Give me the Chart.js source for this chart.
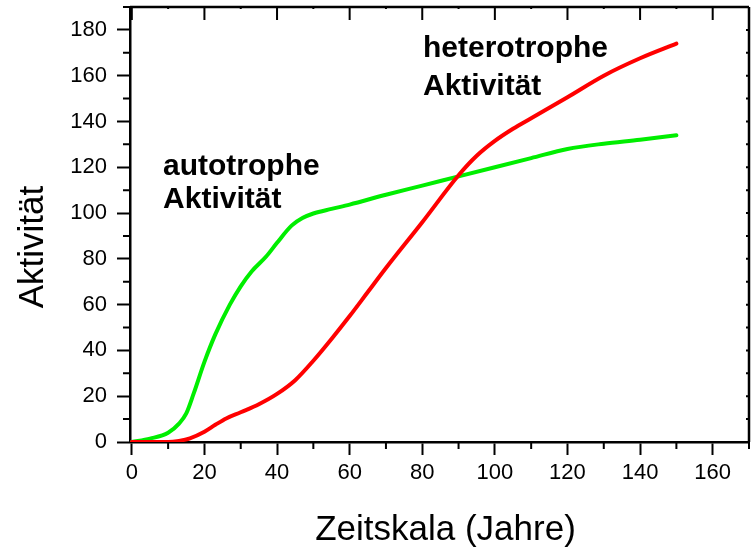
<!DOCTYPE html>
<html>
<head>
<meta charset="utf-8">
<script src="https://cdn.jsdelivr.net/npm/chart.js@4"></script>
<style>
  html, body { margin: 0; padding: 0; background: #fff; }
  #wrap { width: 755px; height: 550px; }
</style>
</head>
<body>
<div id="wrap"><canvas id="chart"></canvas></div>
<script>
// Werte
const jahreAuto = [0, 5, 10, 13, 15, 17, 20, 23, 27, 30, 33, 37, 40, 44, 47, 50, 55, 60, 70, 80, 90, 100, 110, 120, 130, 140, 150];
const autotroph = [0, 1.5, 4, 8, 12.5, 21, 35, 47, 60, 68, 74.5, 81, 87, 94.5, 97.8, 99.8, 101.8, 103.7, 108, 112, 116, 120, 124, 128, 130.3, 132, 134];

const jahreHetero = [0, 5, 10, 13, 16, 20, 23, 26, 30, 35, 40, 45, 50, 55, 60, 65, 70, 80, 90, 95, 100, 105, 110, 120, 130, 140, 150];
const heterotroph = [0, 0, 0, 0.5, 1.6, 4.5, 7.5, 10.3, 13, 16.5, 21, 27, 35.5, 45, 55, 65.5, 76, 96, 116.5, 125, 131.5, 136.8, 141.4, 150.6, 160, 167.6, 174];

const xTicks = [0, 20, 40, 60, 80, 100, 120, 140, 160];
const yTicks = [0, 20, 40, 60, 80, 100, 120, 140, 160, 180];

const textAuto = ['autotrophe', 'Aktivität'];
const textHetero = ['heterotrophe', 'Aktivität'];
const xTitle = 'Zeitskala (Jahre)';
const yTitle = 'Aktivität';

const toPoints = (xs, ys) => xs.map((x, i) => ({ x: x, y: ys[i] }));

const schrift = '"Liberation Sans", Arial, sans-serif';

// Rahmen, Nebenstriche, Beschriftungen
const rahmen = {
  id: 'rahmen',
  afterDraw(chart) {
    const ctx = chart.ctx;
    const a = chart.chartArea;
    const xs = chart.scales.x;
    const ys = chart.scales.y;
    ctx.save();
    ctx.strokeStyle = '#000';
    ctx.lineWidth = 2.5;

    // obere und rechte Achse
    ctx.beginPath();
    ctx.moveTo(a.left, a.top); ctx.lineTo(a.right, a.top);
    ctx.moveTo(a.right, a.top); ctx.lineTo(a.right, a.bottom);
    ctx.stroke();

    ctx.lineWidth = 2;
    ctx.beginPath();
    for (let v = 0; v <= 170; v += 10) {
      const px = xs.getPixelForValue(v);
      const major = v % 20 === 0;
      // unten: Nebenstriche nach aussen
      if (!major) { ctx.moveTo(px, a.bottom); ctx.lineTo(px, a.bottom + 7); }
      // oben: nach innen
      ctx.moveTo(px, a.top); ctx.lineTo(px, a.top + (major ? 13 : 2));
    }
    for (let v = 0; v <= 190; v += 10) {
      const py = ys.getPixelForValue(v);
      if (v % 20 !== 0) { ctx.moveTo(a.left, py); ctx.lineTo(a.left - 7, py); }
      ctx.moveTo(a.right, py); ctx.lineTo(a.right - 3, py);
    }
    ctx.stroke();

    // Kurvenbeschriftungen
    ctx.fillStyle = '#000';
    ctx.font = 'bold 30px ' + schrift;
    ctx.textAlign = 'left';
    ctx.textBaseline = 'alphabetic';
    ctx.fillText(textHetero[0], xs.getPixelForValue(80.2), ys.getPixelForValue(168.3));
    ctx.fillText(textHetero[1], xs.getPixelForValue(80.2), ys.getPixelForValue(151.6));
    ctx.fillText(textAuto[0], xs.getPixelForValue(8.6), ys.getPixelForValue(116.6));
    ctx.fillText(textAuto[1], xs.getPixelForValue(8.6), ys.getPixelForValue(102.1));

    // Achsentitel
    ctx.font = '35px ' + schrift;
    ctx.textAlign = 'center';
    ctx.fillText(xTitle, (a.left + a.right) / 2 + 6, 540);
    ctx.translate(43, 247);
    ctx.rotate(-Math.PI / 2);
    ctx.fillText(yTitle, 0, 0);
    ctx.restore();
  }
};

const ctx = document.getElementById('chart').getContext('2d');
new Chart(ctx, {
  type: 'scatter',
  data: {
    datasets: [{
      label: 'heterotrophe Aktivität',
      data: toPoints(jahreHetero, heterotroph),
      showLine: true,
      borderColor: '#ff0000',
      borderWidth: 4,
      pointRadius: 0,
      cubicInterpolationMode: 'monotone',
      borderCapStyle: 'round'
    }, {
      label: 'autotrophe Aktivität',
      data: toPoints(jahreAuto, autotroph),
      showLine: true,
      borderColor: '#00ee00',
      borderWidth: 4,
      pointRadius: 0,
      cubicInterpolationMode: 'monotone',
      borderCapStyle: 'round'
    }]
  },
  options: {
    responsive: true,
    maintainAspectRatio: false,
    animation: false,
    layout: { padding: { top: 7, right: 6, left: 0, bottom: 0 } },
    plugins: {
      legend: { display: false },
      tooltip: { enabled: false }
    },
    scales: {
      x: {
        type: 'linear',
        min: -0.5,
        max: 170,
        afterFit(s) { s.height = 108; s.paddingLeft = 0; s.paddingRight = 0; },
        afterBuildTicks(s) { s.ticks = xTicks.map(v => ({ value: v })); },
        grid: { drawOnChartArea: false, tickLength: 13, tickWidth: 2, tickColor: '#000' },
        border: { display: true, color: '#000', width: 2.5 },
        ticks: { color: '#000', padding: 5, maxRotation: 0, font: { family: schrift, size: 22 } }
      },
      y: {
        type: 'linear',
        min: 0,
        max: 190,
        afterFit(s) { s.width = 130; s.paddingTop = 0; s.paddingBottom = 0; },
        afterBuildTicks(s) { s.ticks = yTicks.map(v => ({ value: v })); },
        grid: { drawOnChartArea: false, tickLength: 13, tickWidth: 2, tickColor: '#000' },
        border: { display: true, color: '#000', width: 2.5 },
        ticks: { color: '#000', padding: 10, font: { family: schrift, size: 22 } }
      }
    }
  },
  plugins: [rahmen]
});
</script>
</body>
</html>
